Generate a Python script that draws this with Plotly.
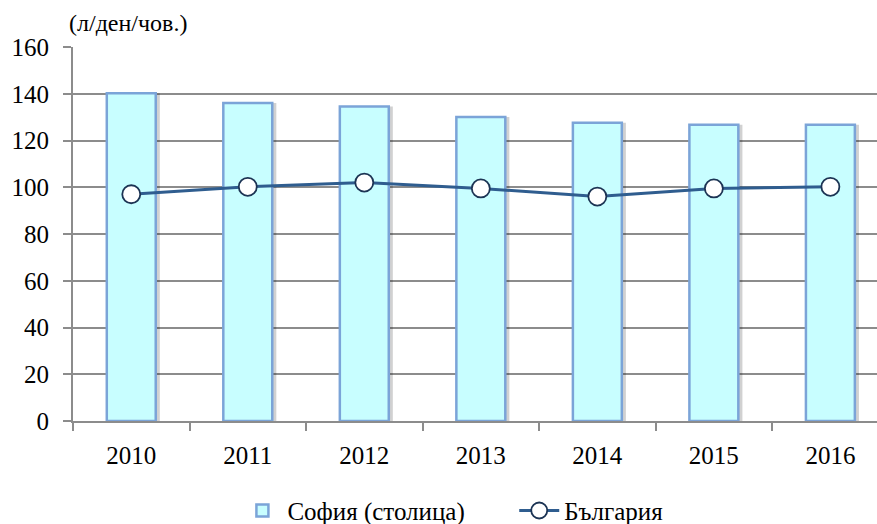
import plotly.graph_objects as go

years = ["2010", "2011", "2012", "2013", "2014", "2015", "2016"]
sofia = [140.2, 136.0, 134.5, 130.1, 127.6, 126.7, 126.7]
bulgaria = [97.0, 100.2, 102.0, 99.5, 96.0, 99.5, 100.2]
y_ticks = [0, 20, 40, 60, 80, 100, 120, 140, 160]

FONT = "Liberation Serif, Times New Roman, DejaVu Serif, serif"
FS = 25
BW = 0.42

fig = go.Figure()

# soft shadow behind bars
fig.add_trace(go.Bar(
    x=years, y=sofia, width=BW, offset=-BW / 2 + 0.035,
    marker=dict(color="rgba(0,0,0,0.18)", line=dict(width=0)),
    showlegend=False, hoverinfo="skip",
))
fig.add_trace(go.Bar(
    x=years, y=sofia, width=BW, offset=-BW / 2,
    name="София (столица)", legend="legend",
    marker=dict(color="#c8feff", line=dict(color="#7ba4d8", width=2.5)),
))
fig.add_trace(go.Scatter(
    x=years, y=bulgaria, mode="lines+markers", name="България", legend="legend2",
    line=dict(color="#2f5d8f", width=3),
    marker=dict(size=18, color="white", line=dict(color="#1c3454", width=1.8)),
))

leg_common = dict(orientation="h", xanchor="left", y=-0.24, yanchor="middle",
                  font=dict(family=FONT, size=FS), itemwidth=40, bgcolor="rgba(0,0,0,0)")

fig.update_layout(
    width=877, height=524,
    margin=dict(l=72.5, r=0, t=47, b=103, autoexpand=False),
    paper_bgcolor="white", plot_bgcolor="white",
    barmode="overlay",
    font=dict(family=FONT, size=FS, color="black"),
    showlegend=True,
    legend=dict(x=0.2045, **leg_common),
    legend2=dict(x=0.5488, **leg_common),
    annotations=[dict(text="(л/ден/чов.)", xref="paper", yref="paper", x=-0.008, y=1.065,
                      xanchor="left", yanchor="middle", showarrow=False,
                      font=dict(family=FONT, size=24))],
)
fig.update_xaxes(
    type="category", range=[-0.5, 6.4],
    showline=True, linecolor="#8c8c8c", linewidth=2,
    ticks="outside", tickson="boundaries", ticklen=8, tickcolor="#8c8c8c", tickwidth=2,
    showgrid=False, tickfont=dict(family=FONT, size=FS), ticklabelstandoff=11,
)
fig.update_yaxes(
    range=[0, 160], tickvals=y_ticks,
    showline=True, linecolor="#8c8c8c", linewidth=2,
    showgrid=True, gridcolor="#8c8c8c", gridwidth=2,
    ticks="outside", ticklen=8, tickcolor="#8c8c8c", tickwidth=2,
    ticklabelstandoff=9, zeroline=False,
    tickfont=dict(family=FONT, size=FS),
)

fig.write_html("out.html", post_script="document.body.style.margin='0';",
               config={"displayModeBar": False})
